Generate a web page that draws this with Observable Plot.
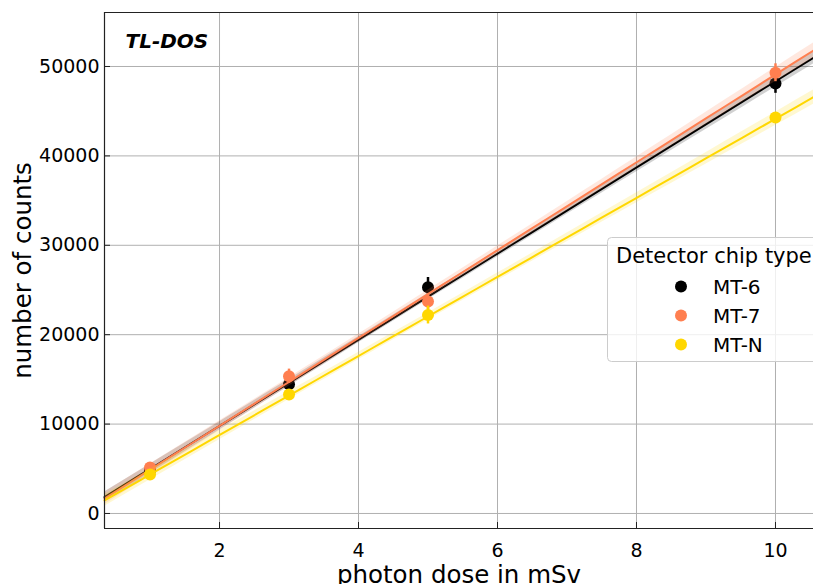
<!DOCTYPE html>
<html>
<head>
<meta charset="utf-8">
<script src="https://cdn.jsdelivr.net/npm/d3@7"></script>
<script src="https://cdn.jsdelivr.net/npm/@observablehq/plot@0.6"></script>
<style>
  html, body { margin: 0; padding: 0; background: #fff; }
  #chart svg { display: block; }
</style>
</head>
<body>
<div id="chart"></div>
<script>
// Measured TL-DOS counts per photon dose for three detector chip types
const doses = [1, 3, 5, 10];
const chipTypes = ["MT-6", "MT-7", "MT-N"];
const chipColors = ["#000000", "#ff7f50", "#ffd700"];

const mt6Counts = [4800, 14450, 25300, 48100];
const mt6Errors = [400, 500, 1100, 1100];
const mt7Counts = [5150, 15350, 23700, 49300];
const mt7Errors = [300, 800, 900, 1000];
const mtnCounts = [4350, 13300, 22200, 44300];
const mtnErrors = [300, 300, 1000, 500];

// Linear fit results (counts = slope * dose + intercept) and band half-width at the axis edge
const fitSlopes = [4818, 4912, 4422];
const fitIntercepts = [161, -17, -72];
const fitBandEdge = [700, 850, 800];

const xTicks = [2, 4, 6, 8, 10];
const yTicks = [0, 10000, 20000, 30000, 40000, 50000];
const xDomain = [0.345, 10.547];
const yDomain = [-1680, 56040];

const countsBySeries = [mt6Counts, mt7Counts, mtnCounts];
const errorsBySeries = [mt6Errors, mt7Errors, mtnErrors];

const points = chipTypes.flatMap((chip, s) =>
  doses.map((dose, i) => ({
    chip, dose,
    counts: countsBySeries[s][i],
    lo: countsBySeries[s][i] - errorsBySeries[s][i],
    hi: countsBySeries[s][i] + errorsBySeries[s][i]
  }))
);

// Confidence band of the fit: narrowest at the mean dose, widening outwards
const meanDose = d3.mean(doses);
const sxx = d3.sum(doses, d => (d - meanDose) ** 2);
const bandShape = x => Math.sqrt(1 / doses.length + (x - meanDose) ** 2 / sxx);
const edgeShape = bandShape(xDomain[1]);
const sampleX = d3.range(0, 41).map(i => xDomain[0] + (xDomain[1] - xDomain[0]) * i / 40);

const fits = chipTypes.flatMap((chip, s) =>
  sampleX.map(x => {
    const y = fitSlopes[s] * x + fitIntercepts[s];
    const hw = fitBandEdge[s] * bandShape(x) / edgeShape;
    return { chip, x, y, y1: y - hw, y2: y + hw };
  })
);

const W = 813, H = 584;
const mL = 104, mT = 12, mB = 56, mR = 0;
const plotW = W - mL - mR, plotH = H - mT - mB;
const font = "DejaVu Sans, Verdana, sans-serif";

const seriesMarks = chipTypes.flatMap((chip, s) => {
  const color = chipColors[s];
  const f = fits.filter(d => d.chip === chip);
  const p = points.filter(d => d.chip === chip);
  return [
    Plot.areaY(f, { x: "x", y1: "y1", y2: "y2", fill: color, fillOpacity: 0.18 }),
    Plot.line(f, { x: "x", y: "y", stroke: color, strokeWidth: 2 }),
    Plot.ruleX(p, { x: "dose", y1: "lo", y2: "hi", stroke: color, strokeWidth: 2.5 }),
    Plot.dot(p, { x: "dose", y: "counts", r: 6, fill: color, stroke: "none" })
  ];
});

const chart = Plot.plot({
  width: W,
  height: H,
  marginLeft: mL,
  marginTop: mT,
  marginBottom: mB,
  marginRight: mR,
  style: { fontFamily: font, background: "#fff", overflow: "visible" },
  x: { domain: xDomain, axis: null },
  y: { domain: yDomain, axis: null },
  color: { domain: chipTypes, range: chipColors },
  marks: [
    Plot.gridX(xTicks, { stroke: "#b0b0b0", strokeOpacity: 1, strokeWidth: 1 }),
    Plot.gridY(yTicks, { stroke: "#b0b0b0", strokeOpacity: 1, strokeWidth: 1 }),
    ...seriesMarks,
    // inward tick marks
    Plot.tickX(xTicks, { x: d => d, insetTop: plotH - 6, stroke: "#222", strokeWidth: 1 }),
    Plot.tickY(yTicks, { y: d => d, insetRight: plotW - 6, stroke: "#222", strokeWidth: 1 }),
    // spines
    Plot.ruleX([xDomain[0]], { stroke: "#222", strokeWidth: 1.2 }),
    Plot.ruleY([yDomain[0]], { stroke: "#222", strokeWidth: 1.2 }),
    Plot.ruleY([yDomain[1]], { stroke: "#222", strokeWidth: 1.2 }),
    // tick labels
    Plot.text(xTicks, {
      x: d => d, text: d => String(d), frameAnchor: "bottom", dy: 28, lineAnchor: "bottom",
      textAnchor: "middle", fontSize: 19, fill: "#000"
    }),
    Plot.text(yTicks, {
      y: d => d, text: d => String(d), frameAnchor: "left", dx: -5, lineAnchor: "middle",
      textAnchor: "end", fontSize: 19, fill: "#000"
    }),
    Plot.text(["photon dose in mSv"], {
      frameAnchor: "bottom", dy: 54, lineAnchor: "bottom",
      fontSize: 24.5, fill: "#000"
    }),
    Plot.text(["number of counts"], {
      frameAnchor: "left", dx: -74, rotate: -90, lineAnchor: "bottom", textAnchor: "middle",
      fontSize: 24.5, fill: "#000"
    }),
    Plot.text(["TL-DOS"], {
      frameAnchor: "top-left", dx: 21, dy: 35, lineAnchor: "bottom", textAnchor: "start",
      fontSize: 20, fontWeight: "bold", fontStyle: "italic", fill: "#000"
    })
  ]
});

// Legend box drawn inside the plot area
const svg = d3.select(chart);
const color = chart.scale("color");
const lg = svg.append("g").attr("font-family", font).attr("text-anchor", "start");
lg.append("rect")
  .attr("x", 607.5).attr("y", 237.5).attr("width", 240).attr("height", 124)
  .attr("rx", 4).attr("fill", "#fff").attr("fill-opacity", 0.8)
  .attr("stroke", "#cccccc").attr("stroke-width", 1);
lg.append("text")
  .attr("x", 616).attr("y", 263).attr("font-size", 21).attr("fill", "#000")
  .attr("text-anchor", "start")
  .text("Detector chip type");
chipTypes.forEach((chip, i) => {
  const cy = 286.5 + i * 29;
  lg.append("circle").attr("cx", 681).attr("cy", cy).attr("r", 6)
    .attr("fill", color.apply(chip));
  lg.append("text").attr("x", 713).attr("y", cy + 7)
    .attr("font-size", 20).attr("fill", "#000").attr("text-anchor", "start")
    .text(chip);
});

document.getElementById("chart").appendChild(chart);
</script>
</body>
</html>
